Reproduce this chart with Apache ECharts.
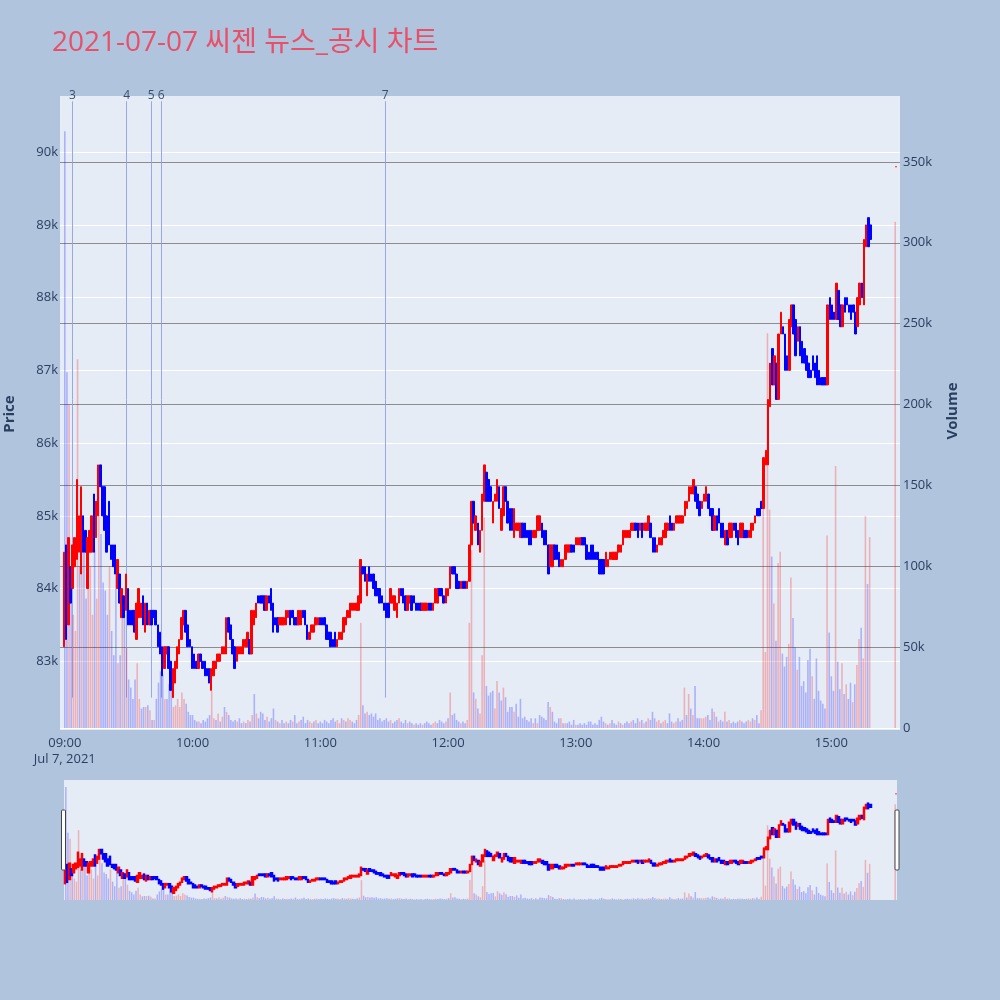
<!DOCTYPE html>
<html>
<head>
<meta charset="utf-8">
<script src="https://cdn.jsdelivr.net/npm/echarts@6/dist/echarts.min.js"></script>
<style>
html, body { margin: 0; padding: 0; background: #b0c4de; }
#chart { width: 1000px; height: 1000px; }
</style>
</head>
<body>
<div id="chart"></div>
<script>
// 씨젠 1분봉, 2021-07-07 (가격: 100원 단위, 거래량: 1000주 단위)
var dayStart = new Date(2021, 6, 7, 9, 0, 0).getTime();

var opens = [
  832,846,835,843,840,843,844,845,842,850, 848,840,845,845,853,847,850,857,854,854,
  850,852,846,846,846,840,842,836,839,837, 840,837,837,837,833,836,836,839,834,838,
  835,837,837,837,835,834,832,829,831,832, 830,825,827,829,831,833,835,837,835,833,
  832,831,830,829,831,830,830,829,829,826, 828,829,830,830,831,831,831,836,835,833,
  832,830,831,831,831,832,832,833,831,835, 836,839,839,839,839,837,839,840,838,836,
  836,835,835,835,835,836,837,837,836,836, 835,835,837,837,835,833,834,834,835,835,
  836,836,836,835,834,834,833,834,832,833, 833,834,835,836,836,837,837,837,837,838,
  843,843,839,843,842,842,841,840,840,839, 838,838,838,838,838,837,836,838,840,840,
  839,837,838,839,839,838,838,838,837,837, 837,838,838,837,838,838,840,840,839,838,
  839,840,843,843,842,841,840,841,841,840, 841,846,852,848,849,845,848,852,856,855,
  854,849,852,852,854,848,850,854,852,851, 851,847,848,848,847,849,849,848,848,848,
  847,847,848,848,849,848,848,846,843,843, 846,846,845,843,843,844,845,845,846,846,
  846,846,846,847,847,846,845,846,846,845, 845,844,844,844,843,843,844,844,844,844,
  845,845,846,847,847,847,848,848,849,849, 848,849,848,848,848,849,847,847,845,846,
  846,847,847,848,850,849,848,849,849,849, 849,850,851,852,853,853,854,853,852,851,
  852,852,853,851,851,848,850,851,849,849, 846,848,847,847,849,849,848,847,847,848,
  848,847,847,848,849,851,851,852,851,857, 857,865,873,868,871,866,875,876,875,872,
  870,876,879,877,874,876,874,873,872,871, 870,872,871,872,870,869,869,869,868,880,
  879,878,877,881,879,876,880,880,879,879, 879,878,876,879,882,879,887,891,890
];

var closes = [
  845,833,847,838,846,847,855,850,854,845, 845,847,848,850,845,852,857,854,850,848,
  845,846,844,843,842,844,838,840,836,842, 835,835,835,834,838,840,838,835,838,835,
  837,835,836,835,832,831,828,832,832,829, 826,829,830,832,833,836,837,834,832,832,
  829,829,829,831,830,829,828,828,827,829, 830,830,831,831,832,832,836,834,833,831,
  829,832,832,832,833,833,834,831,837,837, 838,838,838,838,837,839,838,837,834,835,
  834,836,836,836,837,837,835,836,835,835, 837,837,836,835,833,834,835,835,836,836,
  835,835,835,833,833,832,832,832,833,834, 834,836,836,837,838,838,838,838,839,844,
  842,841,842,841,841,840,839,839,838,838, 837,836,836,840,839,839,838,840,839,838,
  837,839,839,837,838,837,837,837,838,838, 838,837,837,838,840,840,839,839,838,840,
  840,843,842,842,840,840,841,840,840,841, 846,852,849,850,846,848,853,857,852,852,
  852,852,853,855,851,851,854,852,849,848, 848,851,849,849,849,847,847,847,846,846,
  848,848,850,850,847,846,846,842,846,846, 844,844,843,844,844,846,846,846,845,845,
  847,847,847,846,846,844,844,844,844,844, 844,842,842,842,845,844,845,845,845,845,
  846,846,848,848,848,848,849,849,848,847, 849,847,849,849,850,847,845,845,846,847,
  847,848,849,849,848,848,849,850,850,850, 850,852,852,854,854,855,852,851,850,852,
  853,854,851,850,848,850,848,849,847,847, 848,846,849,849,848,847,846,849,849,847,
  847,848,849,849,850,850,850,851,858,859, 866,871,868,872,866,875,878,875,870,870,
  877,879,875,872,876,872,871,871,870,869, 869,870,869,868,868,868,868,868,879,877,
  877,877,882,877,876,879,878,879,878,877, 878,875,880,882,880,888,890,887,888
];

var volumes = [
  369,220,200,90,70,60,228,100,120,115, 80,100,100,70,110,80,150,120,90,85,
  70,100,60,45,100,40,45,80,70,50, 30,25,18,30,40,18,12,13,13,14,
  11,5,5,18,28,35,33,18,18,27, 30,13,14,18,13,22,18,15,10,8,
  8,5,4,4,3,5,4,6,8,23, 6,5,9,4,7,13,10,8,5,4,
  5,4,6,3,4,3,5,4,8,21, 9,6,10,9,5,7,4,6,12,5,
  4,3,5,3,4,3,5,4,8,3, 4,5,7,3,5,4,3,4,5,3,
  4,3,5,4,3,5,6,4,5,3, 6,5,4,6,5,4,3,5,8,65,
  14,9,10,8,9,7,9,5,6,4, 5,6,4,5,3,4,5,6,4,3,
  5,3,4,3,2,3,2,3,2,3, 4,3,2,3,4,3,5,4,3,4,
  6,22,8,9,5,4,3,4,3,5, 65,110,22,18,12,9,45,130,26,20,
  22,23,12,29,22,17,25,19,10,13, 13,10,15,7,18,6,7,5,4,6,
  3,6,3,8,7,6,5,16,13,10, 4,3,6,6,3,3,3,4,2,5,
  2,2,3,2,3,2,4,4,2,3, 2,5,7,4,3,2,3,5,3,2,
  4,3,2,3,4,3,4,5,3,6, 4,5,3,4,6,5,10,6,4,5,
  3,4,5,3,9,4,3,4,6,4, 5,25,8,21,12,8,26,6,6,6,
  6,7,8,5,12,10,7,4,5,4, 10,4,5,3,4,3,4,5,4,3,
  4,5,4,6,5,8,3,11,155,47, 244,135,106,77,54,102,109,46,38,44,
  52,93,68,50,36,44,26,29,22,42, 49,32,18,43,23,17,15,12,119,59,
  32,23,162,41,24,40,21,27,18,28, 16,27,39,55,62,43,131,89,118
];

// 15:30 동시호가
var closingTime = '15:30:00';
var closingPrice = 898;
var closingVolume = 313;

// 뉴스/공시 시점
var newsLabels = ['3', '4', '5', '6', '7'];
var newsTimes = ['09:03:54', '09:29:24', '09:40:54', '09:45:36', '11:30:30'];

var UP = '#ff0000', DOWN = '#0000ff';
var UP_VOL = 'rgba(255,0,0,0.25)', DOWN_VOL = 'rgba(0,0,255,0.25)';
var TXT = '#2a3f5f';
var FONT = '"Open Sans", "Noto Sans CJK KR", sans-serif';

function toTime(s) {
  var p = s.split(':');
  return new Date(2021, 6, 7, +p[0], +p[1], +(p[2] || 0)).getTime();
}

// 거래량 색: 직전 종가 대비 상승이면 빨강, 아니면 파랑
var candles = [], vols = [];
var prevClose = null;
for (var i = 0; i < opens.length; i++) {
  var t = dayStart + i * 60000;
  var o = opens[i] * 100, c = closes[i] * 100;
  candles.push([t, o, c, Math.min(o, c), Math.max(o, c)]);
  var up = prevClose !== null && c > prevClose;
  vols.push({ value: [t, volumes[i] * 1000], itemStyle: { color: up ? UP_VOL : DOWN_VOL } });
  prevClose = c;
}
var tc = toTime(closingTime), pc = closingPrice * 100;
candles.push([tc, pc, pc, pc, pc]);
vols.push({ value: [tc, closingVolume * 1000], itemStyle: { color: pc > prevClose ? UP_VOL : DOWN_VOL } });

var newsLines = newsTimes.map(function (s, k) {
  return [{ name: newsLabels[k], coord: [toTime(s), 82500] }, { coord: [toTime(s), 90700] }];
});

var mainMin = dayStart - 1.875 * 60000, mainMax = dayStart + 391.875 * 60000;
var miniMin = dayStart - 0.5 * 60000, miniMax = dayStart + 390.5 * 60000;

var grey = '#8a8c90', clear = 'rgba(0,0,0,0)';

var chart = echarts.init(document.getElementById('chart'));
chart.setOption({
  animation: false,
  backgroundColor: '#b0c4de',
  title: {
    text: '2021-07-07 씨젠 뉴스_공시 차트',
    left: 47, top: 24,
    textStyle: { color: '#e8506a', fontSize: 28, fontWeight: 'normal', fontFamily: FONT }
  },
  graphic: [
    { type: 'rect', z: -10, silent: true, shape: { x: 60, y: 96, width: 840, height: 634 }, style: { fill: '#e5ecf6' } },
    { type: 'rect', z: -10, silent: true, shape: { x: 64, y: 780, width: 833, height: 120 }, style: { fill: '#e5ecf6' } },
    { type: 'rect', z: 100, silent: true, shape: { x: 61.5, y: 810, width: 4, height: 60, r: 1 }, style: { fill: '#fff', stroke: '#444', lineWidth: 1 } },
    { type: 'rect', z: 100, silent: true, shape: { x: 895, y: 810, width: 4, height: 60, r: 1 }, style: { fill: '#fff', stroke: '#444', lineWidth: 1 } }
  ],
  grid: [
    { left: 60, right: 100, top: 94, bottom: 266, outerBoundsMode: 'none' },
    { left: 60, right: 100, top: 94, bottom: 272, outerBoundsMode: 'none' },
    { left: 64, right: 103, top: 780, bottom: 100, outerBoundsMode: 'none' },
    { left: 64, right: 103, top: 780, bottom: 100, outerBoundsMode: 'none' }
  ],
  xAxis: [
    { type: 'time', gridIndex: 0, min: mainMin, max: mainMax, show: false },
    {
      type: 'time', gridIndex: 1, min: mainMin, max: mainMax,
      minInterval: 3600000, maxInterval: 3600000,
      axisLine: { show: false }, axisTick: { show: false }, splitLine: { show: false },
      axisLabel: {
        color: TXT, fontSize: 13, fontFamily: FONT, margin: 7, lineHeight: 16,
        formatter: function (v) {
          var d = new Date(v);
          var s = ('0' + d.getHours()).slice(-2) + ':' + ('0' + d.getMinutes()).slice(-2);
          return v === dayStart ? s + '\nJul 7, 2021' : s;
        }
      }
    },
    { type: 'time', gridIndex: 2, min: miniMin, max: miniMax, show: false },
    { type: 'time', gridIndex: 3, min: miniMin, max: miniMax, show: false }
  ],
  yAxis: [
    {
      type: 'value', gridIndex: 0, position: 'left', min: 82000, max: 90800, interval: 1000,
      axisLine: { show: false }, axisTick: { show: false },
      splitLine: { lineStyle: { color: [clear, '#fff', '#fff', '#fff', '#fff', '#fff', '#fff', '#fff', '#fff', clear], width: 1 } },
      axisLabel: {
        color: TXT, fontSize: 13, fontFamily: FONT, margin: 2,
        formatter: function (v) { return (v % 1000 === 0 && v >= 83000 && v <= 90000) ? (v / 1000) + 'k' : ''; }
      },
      name: 'Price', nameLocation: 'middle', nameGap: 43,
      nameTextStyle: { color: TXT, fontSize: 15, fontWeight: 'bold', fontFamily: FONT }
    },
    {
      type: 'value', gridIndex: 1, position: 'right', min: 0, max: 392000, interval: 50000,
      axisLine: { show: false }, axisTick: { show: false },
      splitLine: { lineStyle: { color: ['#fff', grey, grey, grey, grey, grey, grey, grey, clear], width: 1 } },
      axisLabel: {
        color: TXT, fontSize: 13, fontFamily: FONT, margin: 3,
        formatter: function (v) { return v % 50000 !== 0 ? '' : (v === 0 ? '0' : (v / 1000) + 'k'); }
      },
      name: 'Volume', nameLocation: 'middle', nameGap: 45,
      nameTextStyle: { color: TXT, fontSize: 15, fontWeight: 'bold', fontFamily: FONT }
    },
    { type: 'value', gridIndex: 2, min: 82000, max: 90800, show: false },
    { type: 'value', gridIndex: 3, min: 0, max: 392000, show: false }
  ],
  series: [
    {
      type: 'bar', xAxisIndex: 1, yAxisIndex: 1, z: 1, barWidth: 1.6,
      data: vols
    },
    {
      type: 'candlestick', xAxisIndex: 0, yAxisIndex: 0, z: 3, barWidth: 2,
      encode: { x: 0, y: [1, 2, 3, 4] },
      itemStyle: { color: UP, color0: DOWN, borderColor: UP, borderColor0: DOWN, borderWidth: 1 },
      data: candles,
      markLine: {
        z: 1, silent: true, symbol: ['none', 'none'],
        lineStyle: { color: '#8fa0ea', width: 1, type: 'solid', opacity: 0.9 },
        label: { show: true, position: 'end', distance: 0, formatter: '{b}', color: TXT, fontSize: 12, fontFamily: FONT },
        data: newsLines
      }
    },
    {
      type: 'bar', xAxisIndex: 3, yAxisIndex: 3, z: 1, barWidth: 1.5,
      data: vols
    },
    {
      type: 'candlestick', xAxisIndex: 2, yAxisIndex: 2, z: 3, barWidth: 2,
      encode: { x: 0, y: [1, 2, 3, 4] },
      itemStyle: { color: UP, color0: DOWN, borderColor: UP, borderColor0: DOWN, borderWidth: 1.5 },
      data: candles
    }
  ]
});
</script>
</body>
</html>
